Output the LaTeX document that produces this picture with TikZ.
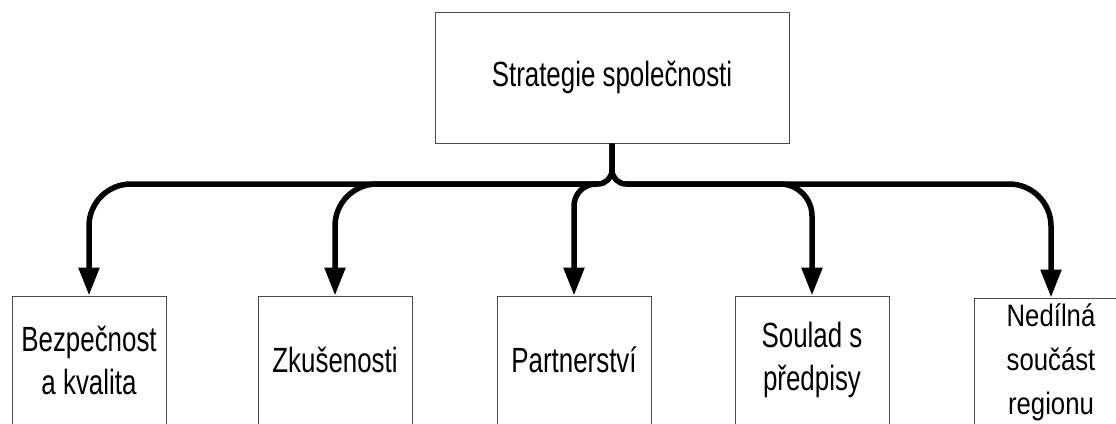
\documentclass[tikz,border=0pt]{standalone}
\usepackage{fontspec}
\setmainfont[FakeStretch=0.74]{Liberation Sans}
\newfontfamily\tallfont[FakeStretch=0.83]{Liberation Sans}
\usetikzlibrary{arrows.meta}

\tikzstyle{pillar}=[draw=black!70,line width=1pt,rectangle,minimum width=154pt,minimum height=128pt,inner sep=0pt,align=center,font=\fontsize{35}{43}\selectfont]
\tikzstyle{strategy}=[pillar,minimum width=354pt,minimum height=131pt]
\tikzstyle{stem}=[line width=5.5pt,rounded corners=14pt]
\tikzstyle{link}=[line width=5.5pt,rounded corners=42pt,-{Triangle[length=28pt,width=20pt]}]

\begin{document}
\begin{tikzpicture}[x=1pt,y=-1pt]
    \useasboundingbox (0,0) rectangle (1116,423);
    \clip (0,0) rectangle (1116,423);
    \node (s)[strategy] at (612,77.5) {Strategie společnosti};
    \node (p1)[pillar] at (89,360) {Bezpečnost\\a kvalita};
    \node (p2)[pillar] at (335,360) {Zkušenosti};
    \node (p3)[pillar] at (574,360) {Partnerství};
    \node (p4)[pillar] at (812,360) {Soulad s\\předpisy};
    \node (p5)[pillar,font=\tallfont\fontsize{31}{44}\selectfont] at (1051,362) {Nedílná\\součást\\regionu};
    \coordinate (jl) at (598,184);
    \coordinate (jr) at (626,184);
    \draw[stem] (s.south) |- (jl);
    \draw[stem] (s.south) |- (jr);
    \draw[link] (jl) -| (p1.north);
    \draw[link] (jl) -| (p2.north);
    \draw[link,rounded corners=22pt] (jl) -| (p3.north);
    \draw[link,rounded corners=32pt] (jr) -| (p4.north);
    \draw[link] (jr) -| (p5.north);
\end{tikzpicture}
\end{document}
